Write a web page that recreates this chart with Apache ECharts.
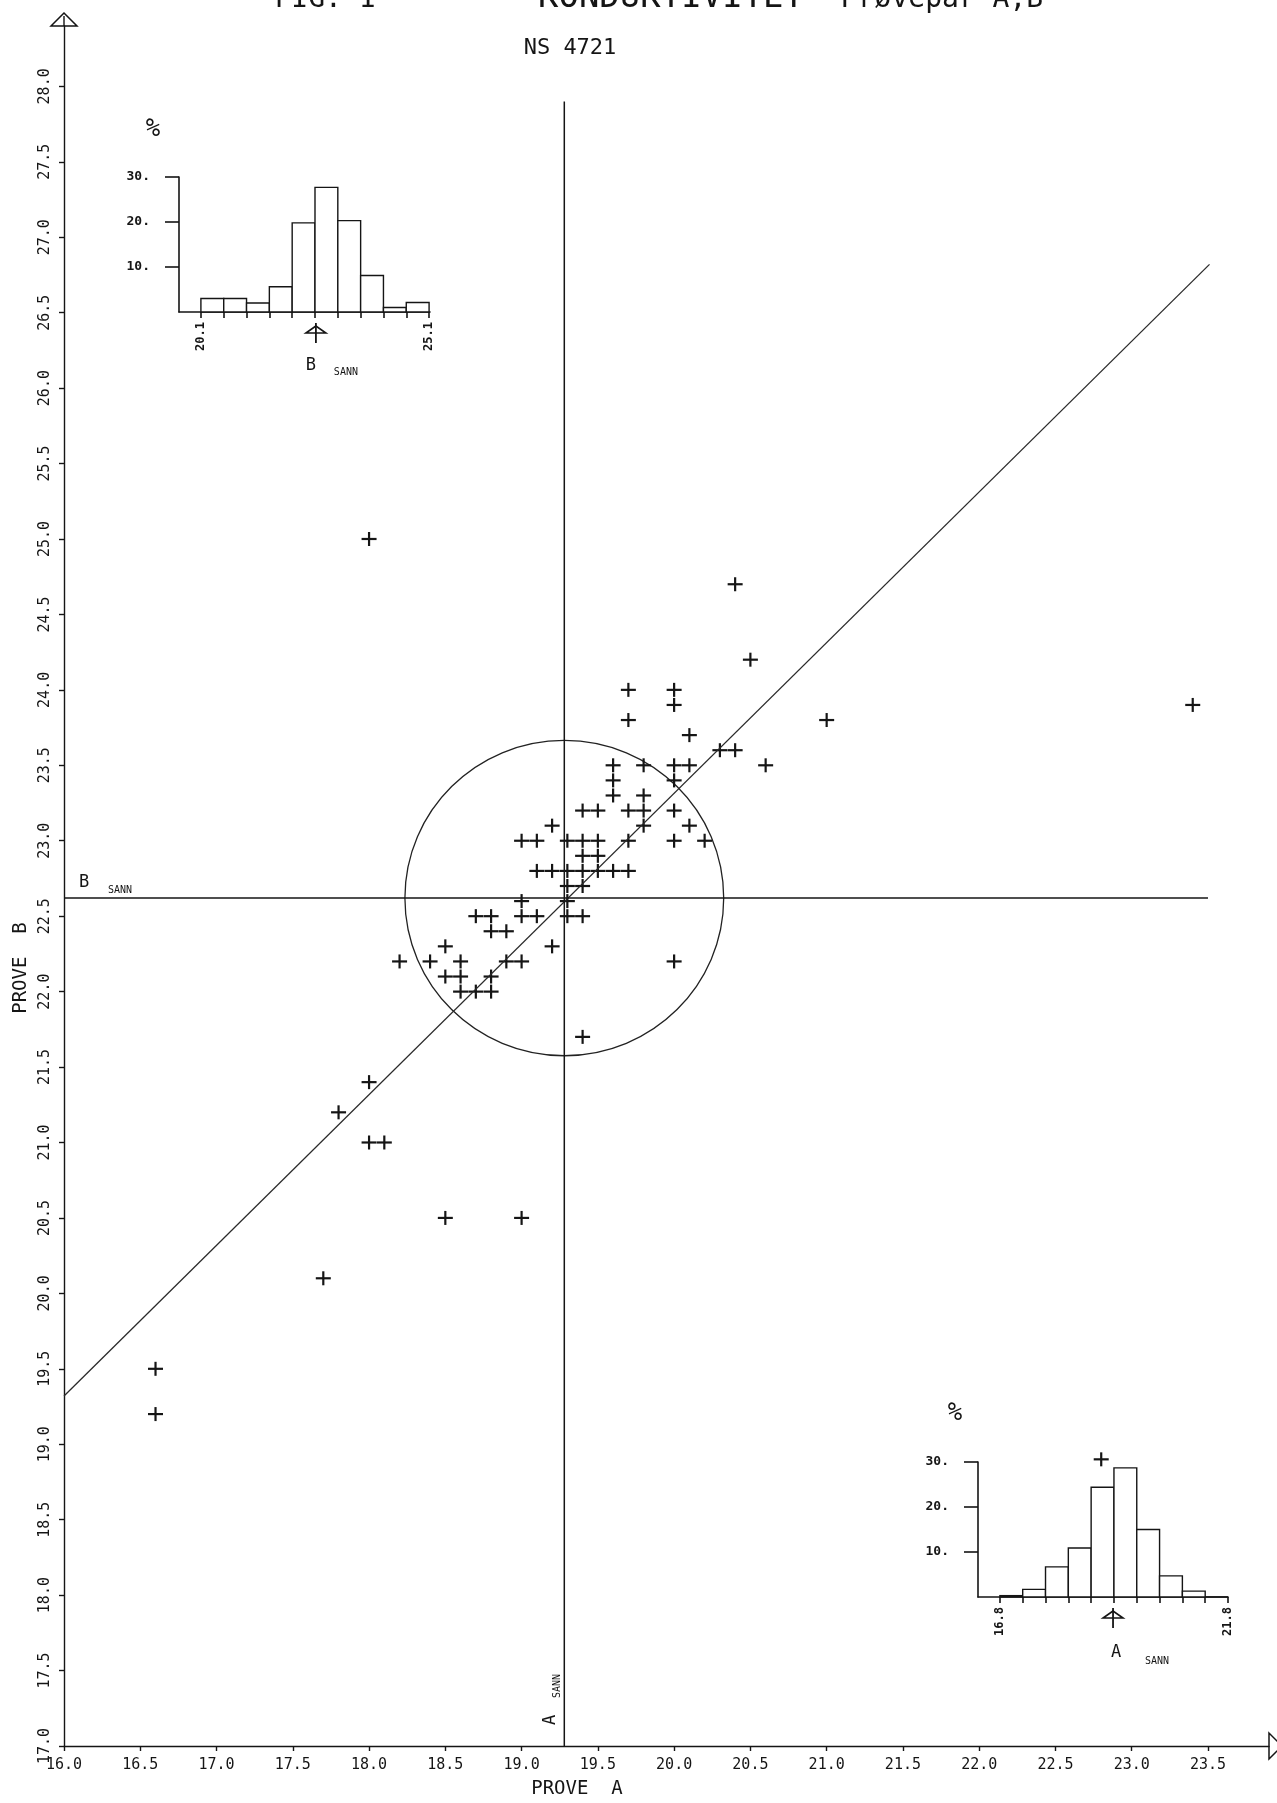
<!DOCTYPE html>
<html><head><meta charset="utf-8">
<script src="https://cdn.jsdelivr.net/npm/echarts@6/dist/echarts.min.js"></script>
<style>html,body{margin:0;padding:0;background:#fff}#c{width:1277px;height:1803px}</style>
</head><body><div id="c"></div>
<script>
// ---------------- DATA ----------------
const xTickValues = [16.0,16.5,17.0,17.5,18.0,18.5,19.0,19.5,20.0,20.5,21.0,21.5,22.0,22.5,23.0,23.5];
const yTickValues = [17.0,17.5,18.0,18.5,19.0,19.5,20.0,20.5,21.0,21.5,22.0,22.5,23.0,23.5,24.0,24.5,25.0,25.5,26.0,26.5,27.0,27.5,28.0];
// sample pairs: [prove A, prove B]
const provePairs = [
  [18.0,25.0],[20.4,24.7],[20.5,24.2],[23.4,23.9],[21.0,23.8],
  [19.7,24.0],[20.0,24.0],[20.0,23.9],[19.7,23.8],[20.1,23.7],[20.3,23.6],[20.4,23.6],
  [19.6,23.5],[19.8,23.5],[20.0,23.5],[20.1,23.5],[20.6,23.5],
  [19.6,23.4],[20.0,23.4],[19.6,23.3],[19.8,23.3],
  [19.4,23.2],[19.5,23.2],[19.7,23.2],[19.8,23.2],[20.0,23.2],
  [19.2,23.1],[19.8,23.1],[20.1,23.1],
  [19.0,23.0],[19.1,23.0],[19.3,23.0],[19.4,23.0],[19.5,23.0],[19.7,23.0],[20.0,23.0],[20.2,23.0],
  [19.4,22.9],[19.5,22.9],
  [19.1,22.8],[19.2,22.8],[19.3,22.8],[19.4,22.8],[19.5,22.8],[19.6,22.8],[19.7,22.8],
  [19.3,22.7],[19.4,22.7],[19.0,22.6],[19.3,22.6],
  [18.7,22.5],[18.8,22.5],[19.0,22.5],[19.1,22.5],[19.3,22.5],[19.4,22.5],
  [18.8,22.4],[18.9,22.4],[18.5,22.3],[19.2,22.3],
  [18.2,22.2],[18.4,22.2],[18.6,22.2],[18.9,22.2],[19.0,22.2],[20.0,22.2],
  [18.5,22.1],[18.6,22.1],[18.8,22.1],[18.6,22.0],[18.7,22.0],[18.8,22.0],
  [19.4,21.7],[18.0,21.4],[17.8,21.2],[18.0,21.0],[18.1,21.0],
  [18.5,20.5],[19.0,20.5],[17.7,20.1],[16.6,19.5],[16.6,19.2],[22.8,18.9]
];
const regressionLine = [[16.0,19.32],[23.51,26.82]];
const A_SANN = 19.28;
const B_SANN = 22.62;
const circleRadius = 1.045;
const A_SANN_LINE_TOP = 27.9;
const B_SANN_LINE_RIGHT = 23.5;
// histogram of prove B (top-left)
const histB_edges = [20.1,20.6,21.1,21.6,22.1,22.6,23.1,23.6,24.1,24.6,25.1];
const histB_pct = [3.0,3.0,2.0,5.6,19.8,27.7,20.3,8.1,1.0,2.1];
// histogram of prove A (bottom-right)
const histA_edges = [16.8,17.3,17.8,18.3,18.8,19.3,19.8,20.3,20.8,21.3,21.8];
const histA_pct = [0.3,1.7,6.7,10.9,24.4,28.7,15.0,4.7,1.3,0.0];
const pctTicks = [10,20,30];

// ---------------- CHART ----------------
const INK = '#151515';
const FONT = 'DejaVu Sans Mono';
const chart = echarts.init(document.getElementById('c'), null, {renderer:'canvas'});

function binData(edges, pct){ return pct.map((p,i)=>[edges[i], edges[i+1], p]); }

function histSeries(idx, edges, pct){
  return {
    type:'custom', xAxisIndex:idx, yAxisIndex:idx, silent:true,
    data: binData(edges,pct), encode:{x:[0,1], y:2},
    renderItem(params, api){
      const p0 = api.coord([api.value(0), 0]);
      const p1 = api.coord([api.value(1), api.value(2)]);
      return {type:'rect', shape:{x:p0[0], y:p1[1], width:p1[0]-p0[0], height:p0[1]-p1[1]},
        style:{fill:'#fff', stroke:INK, lineWidth:1.4}};
    }
  };
}

function insetX(gridIndex, min, max, edges){
  return {
    type:'value', gridIndex, min, max,
    axisLine:{show:true, onZero:false, lineStyle:{color:INK, width:1.6}},
    axisTick:{show:true, customValues:edges, length:6, lineStyle:{color:INK, width:1.6}},
    axisLabel:{show:true, customValues:[edges[0], edges[edges.length-1]], rotate:90, margin:10,
      fontFamily:FONT, fontSize:12, fontWeight:'bold', color:INK, formatter:v=>v.toFixed(1)},
    splitLine:{show:false}
  };
}
function insetY(gridIndex){
  return {
    type:'value', gridIndex, min:0, max:30,
    axisLine:{show:true, onZero:false, lineStyle:{color:INK, width:1.6}},
    axisTick:{show:true, customValues:pctTicks, length:14, lineStyle:{color:INK, width:1.6}},
    axisLabel:{show:true, customValues:pctTicks, margin:29, fontFamily:FONT, fontSize:13,
      fontWeight:'bold', color:INK, formatter:v=>v+'.'},
    splitLine:{show:false}
  };
}

const option = {
  backgroundColor:'#ffffff',
  animation:false,
  grid:[
    {left:64, top:26, right:8, bottom:57, outerBoundsMode:'none'},
    {left:179, top:177, width:251, height:135, outerBoundsMode:'none'},
    {left:978, top:1462, width:250, height:135, outerBoundsMode:'none'}
  ],
  xAxis:[
    {type:'value', gridIndex:0, min:16, max:23.9,
      axisLine:{show:true, onZero:false, lineStyle:{color:INK, width:1.4}},
      axisTick:{show:true, customValues:xTickValues, length:5, lineStyle:{color:INK, width:1.4}},
      axisLabel:{show:true, customValues:xTickValues, margin:12, fontFamily:FONT, fontSize:15,
        color:INK, formatter:v=>v.toFixed(1)},
      splitLine:{show:false}},
    insetX(1, 19.62, 25.12, histB_edges),
    insetX(2, 16.32, 21.8, histA_edges)
  ],
  yAxis:[
    {type:'value', gridIndex:0, min:17, max:28.4,
      axisLine:{show:true, onZero:false, lineStyle:{color:INK, width:1.4}},
      axisTick:{show:true, customValues:yTickValues, length:5, lineStyle:{color:INK, width:1.4}},
      axisLabel:{show:true, customValues:yTickValues, rotate:90, margin:11, fontFamily:FONT, fontSize:15,
        color:INK, formatter:v=>v.toFixed(1)},
      splitLine:{show:false}},
    insetY(1),
    insetY(2)
  ],
  series:[
    {type:'line', xAxisIndex:0, yAxisIndex:0, data:regressionLine, symbol:'none', silent:true,
      lineStyle:{color:'#2a2a2a', width:1.3}},
    {type:'line', xAxisIndex:0, yAxisIndex:0, data:[[A_SANN,17],[A_SANN,A_SANN_LINE_TOP]], symbol:'none', silent:true,
      lineStyle:{color:INK, width:1.5}},
    {type:'line', xAxisIndex:0, yAxisIndex:0, data:[[16,B_SANN],[B_SANN_LINE_RIGHT,B_SANN]], symbol:'none', silent:true,
      lineStyle:{color:INK, width:1.5}},
    {type:'custom', xAxisIndex:0, yAxisIndex:0, silent:true, data:[[A_SANN,B_SANN,circleRadius]],
      renderItem(params, api){
        const c = api.coord([api.value(0), api.value(1)]);
        const s = api.size([api.value(2), api.value(2)]);
        return {type:'ellipse', shape:{cx:c[0], cy:c[1], rx:s[0], ry:s[1]},
          style:{fill:null, stroke:'#222', lineWidth:1.3}};
      }},
    {type:'custom', xAxisIndex:0, yAxisIndex:0, silent:true, data:provePairs,
      renderItem(params, api){
        const p = api.coord([api.value(0), api.value(1)]);
        const h = 7.5, v = 7;
        return {type:'group', children:[
          {type:'line', shape:{x1:p[0]-h, y1:p[1], x2:p[0]+h, y2:p[1]}, style:{stroke:INK, lineWidth:2.2}},
          {type:'line', shape:{x1:p[0], y1:p[1]-v, x2:p[0], y2:p[1]+v}, style:{stroke:INK, lineWidth:2.2}}
        ]};
      }},
    histSeries(1, histB_edges, histB_pct),
    histSeries(2, histA_edges, histA_pct)
  ]
};
chart.setOption(option);

// ---------------- ANNOTATIONS ----------------
function P(g, x, y){ return chart.convertToPixel({gridIndex:g}, [x, y]); }
function txt(x, y, text, size, opts){
  return Object.assign({type:'text', x, y, silent:true,
    style:Object.assign({text, fontFamily:FONT, fontSize:size, fill:INK, align:'center', verticalAlign:'middle'}, (opts&&opts.style)||{})},
    opts && opts.rotation ? {rotation:opts.rotation} : {});
}
function sannMarker(g, xv){
  const b = P(g, xv, 0);
  const x = b[0], y = b[1];
  return [
    {type:'polygon', silent:true, shape:{points:[[x, y+14],[x-10, y+21],[x+10, y+21]]}, style:{fill:'#fff', stroke:INK, lineWidth:1.6}},
    {type:'line', silent:true, shape:{x1:x, y1:y+11, x2:x, y2:y+31}, style:{stroke:INK, lineWidth:1.8}}
  ];
}
const g = [];
// title (cut off at the top edge)
g.push(txt(325, 0, 'FIG. 1', 28));
g.push(txt(671, -2, 'KONDUKTIVITET', 34));
g.push(txt(942, 0, 'Prøvepar A,B', 28));
g.push(txt(570, 48, 'NS 4721', 22));
// axis names
g.push(txt(577, 1789, 'PROVE  A', 19));
g.push(txt(21, 968, 'PROVE  B', 19, {rotation:Math.PI/2}));
// axis arrows
const yTop = P(0, 16, 28.4);
g.push({type:'polygon', silent:true, shape:{points:[[yTop[0], yTop[1]-13],[yTop[0]-13, yTop[1]],[yTop[0]+13, yTop[1]]]}, style:{fill:'#fff', stroke:INK, lineWidth:1.5}});
g.push({type:'line', silent:true, shape:{x1:yTop[0], y1:yTop[1], x2:yTop[0], y2:yTop[1]-10}, style:{stroke:INK, lineWidth:1.4}});
const xEnd = P(0, 23.9, 17);
g.push({type:'polygon', silent:true, shape:{points:[[xEnd[0]+13, xEnd[1]],[xEnd[0], xEnd[1]-13],[xEnd[0], xEnd[1]+13]]}, style:{fill:'#fff', stroke:INK, lineWidth:1.5}});
// sann labels on main chart
const bL = P(0, 16, B_SANN);
g.push(txt(bL[0]+20, bL[1]-15, 'B', 17));
g.push(txt(bL[0]+56, bL[1]-8, 'SANN', 10));
const aL = P(0, A_SANN, 17);
g.push(txt(aL[0]-14, aL[1]-26, 'A', 17, {rotation:Math.PI/2}));
g.push(txt(aL[0]-7, aL[1]-60, 'SANN', 10, {rotation:Math.PI/2}));
// insets
const b1 = P(1, 19.62, 30);
g.push(txt(b1[0]-26, b1[1]-47, '%', 24));
g.push(...sannMarker(1, B_SANN));
const bm = P(1, B_SANN, 0);
g.push(txt(bm[0]-5, bm[1]+54, 'B', 17));
g.push(txt(bm[0]+30, bm[1]+60, 'SANN', 10));
const a1 = P(2, 16.32, 30);
g.push(txt(a1[0]-23, a1[1]-48, '%', 24));
g.push(...sannMarker(2, A_SANN));
const am = P(2, A_SANN, 0);
g.push(txt(am[0]+3, am[1]+56, 'A', 17));
g.push(txt(am[0]+44, am[1]+64, 'SANN', 10));
chart.setOption({graphic:{elements:g}});
</script>
</body></html>
